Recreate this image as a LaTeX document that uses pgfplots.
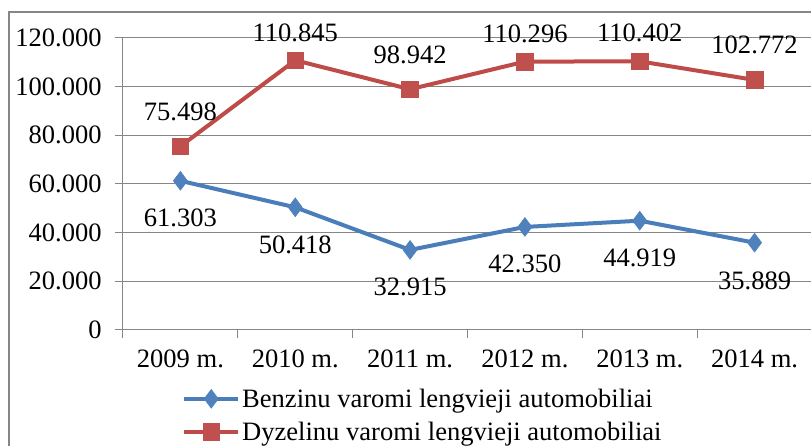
\documentclass[border=0pt]{standalone}
\usepackage{fontspec}
\setmainfont{Liberation Serif}
\usepackage{pgfplots}
\usepackage{pgfplotstable}
\pgfplotsset{compat=1.18}

\definecolor{serblue}{HTML}{4F81BD}
\definecolor{serbluel}{HTML}{4A7EBB}
\definecolor{serred}{HTML}{C0504D}
\definecolor{serredl}{HTML}{BE4B48}
\definecolor{gridgray}{HTML}{868686}

% x = year index, y = value, s = label offset (pt)
\pgfplotstableread{
x y s
0 61303 -28
1 50418 -28
2 32915 -28
3 42350 -28
4 44919 -28
5 35889 -29
}\benz
\pgfplotstableread{
x y s
0 75498 25.5
1 110845 20.5
2 98942 25.5
3 110296 21
4 110402 21
5 102772 26
}\dyz

\newcommand{\cf}{\fontsize{19.9}{22}\selectfont}

\begin{document}
\begin{tikzpicture}
\draw[gridgray,line width=1.2pt] (6.75pt,-20pt) rectangle (640pt,325.5pt);
\begin{axis}[
  at={(92.25pt,87pt)}, anchor=south west,
  scale only axis, width=516.75pt, height=219pt,
  xmin=-0.5, xmax=5.5, ymin=0, ymax=120000,
  xtick={-0.5,0.5,...,5.5}, x tick label as interval,
  xticklabels={2009 m.,2010 m.,2011 m.,2012 m.,2013 m.,2014 m.},
  ytick={0,20000,...,120000},
  scaled y ticks=false,
  /pgf/number format/fixed,
  /pgf/number format/precision=0,
  /pgf/number format/1000 sep={.},
  /pgf/number format/assume math mode=true,
  axis x line*=bottom, axis y line*=left,
  axis line style={gridgray,line width=0.75pt,-},
  ymajorgrids, grid style={gridgray,line width=0.75pt},
  tick align=outside, major tick length=6pt,
  tick style={gridgray,line width=0.75pt},
  tick label style={font=\cf},
  yticklabel style={xshift=-6.5pt},
  xticklabel style={yshift=-5.5pt},
  clip=false,
  nodes near coords,
  nodes near coords style={font=\cf,black,anchor=center,yshift=\lshift pt},
  visualization depends on={\thisrow{s}\as\lshift},
  legend style={at={(0.0856,-0.193)},anchor=north west,draw=none,fill=none,
    font=\cf,row sep=6.5pt,inner sep=0pt,nodes={inner sep=1.5pt},
    cells={anchor=west}},
  legend image code/.code={\draw[#1,mark repeat=2,mark phase=2] plot coordinates {(0pt,0pt) (20.25pt,0pt) (40.5pt,0pt)};},
]
\addplot[serbluel,line width=3pt,mark=diamond*,mark size=7pt,
  mark options={fill=serblue,draw=serblue,line width=0.5pt}] table[x=x,y=y] {\benz};
\addlegendentry{Benzinu varomi lengvieji automobiliai}
\addplot[serredl,line width=3pt,mark=square*,mark size=6.2pt,
  mark options={fill=serred,draw=serred,line width=0.5pt}] table[x=x,y=y] {\dyz};
\addlegendentry{Dyzelinu varomi lengvieji automobiliai}
\end{axis}
\pgfresetboundingbox
\useasboundingbox (0,0) rectangle (608.25pt,334.5pt);
\end{tikzpicture}
\end{document}
